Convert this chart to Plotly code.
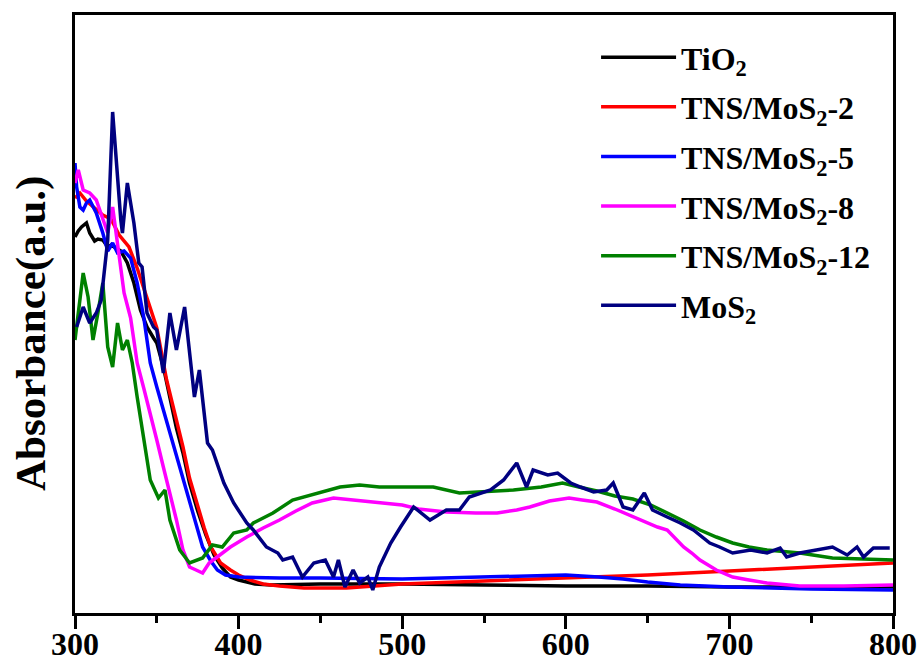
import plotly.graph_objects as go

# ---- data (wavelength nm, absorbance a.u.) ----
tio2_x = [300,302,304,307,309,312,314,317,320,322,325,328,332,336,340,344,348,350,354,358,362,366,370,375,380,385,390,395,400,410,420,450,500,550,600,650,700,750,800]
tio2_y = [376,382,386,390,380,372,374,373,366,368,365,362,350,330,303,286,275,270,246,215,185,160,130,102,78,58,45,36,33,29,28,29,29,28,27,27,26,26,26]

tns2_x = [300,303,307,312,317,322,327,333,338,342,346,350,356,361,366,370,375,379,383,389,395,400,407,415,425,440,466,500,550,600,650,700,750,800]
tns2_y = [415,420,412,405,398,394,378,366,345,325,305,285,233,200,166,135,106,85,66,50,43,38,33,29,27,25,25,29,32,35,38,42,46,50]

tns5_x = [300,301,303,305,307,309,313,317,320,323,326,330,334,338,342,346,350,354,358,362,366,370,374,378,383,387,392,400,425,450,500,550,600,620,635,650,670,700,750,800]
tns5_y = [450,426,406,403,410,413,400,380,362,370,360,362,355,330,296,250,226,203,182,160,137,113,90,66,52,43,38,36,35,35,34,36,38,36,34,31,28,26,24,23]

tns8_x = [300,302,305,309,313,317,320,323,327,330,334,338,342,346,350,354,358,362,366,370,374,378,382,386,395,405,415,425,435,445,458,470,486,500,510,527,545,558,570,578,590,602,610,619,630,639,648,656,662,667,672,677,682,692,702,712,723,743,770,800]
tns8_y = [430,443,423,420,413,393,380,406,360,320,295,250,225,200,173,146,120,93,63,46,43,40,50,55,66,76,85,93,102,110,115,113,110,108,104,101,100,100,103,106,112,115,113,111,104,98,92,86,83,75,66,60,53,43,36,33,30,27,27,28]

tns12_x = [300,302,305,308,311,314,317,320,323,326,329,332,335,338,341,346,351,355,358,364,370,375,378,384,390,397,405,409,421,433,448,462,474,486,499,519,535,548,568,585,598,608,619,630,641,652,662,672,682,692,702,712,723,743,763,780,800]
tns12_y = [273,300,340,316,273,300,330,266,246,290,263,273,250,216,183,133,115,123,93,63,50,53,55,68,66,80,83,90,100,113,120,126,128,126,126,126,120,121,123,126,130,126,122,117,114,108,100,92,83,76,70,66,63,60,55,54,53]

mos2_x = [301,305,309,313,316,320,323,326,328,329,332,336,339,341,344,348,350,354,358,362,367,373,376,381,384,391,397,405,409,417,424,427,433,439,446,453,458,461,465,470,474,479,482,486,493,499,507,517,527,535,541,554,562,570,576,580,589,595,603,609,617,625,629,635,641,648,653,662,670,678,688,694,702,713,723,731,735,743,754,763,772,778,782,788,798]
mos2_y = [286,306,290,300,313,373,501,433,393,380,430,390,350,346,300,286,283,240,300,263,306,216,243,170,163,130,110,90,83,66,60,53,56,36,50,53,36,53,26,43,30,36,23,46,70,86,106,93,103,103,116,123,133,150,126,143,138,140,130,126,121,123,130,106,103,120,103,96,90,83,70,66,60,63,60,65,56,60,63,66,58,66,56,65,65]

series = [
    ("TiO<sub>2</sub>", tio2_x, tio2_y, "#000000"),
    ("TNS/MoS<sub>2</sub>-2", tns2_x, tns2_y, "#FF0000"),
    ("TNS/MoS<sub>2</sub>-5", tns5_x, tns5_y, "#0000FF"),
    ("TNS/MoS<sub>2</sub>-8", tns8_x, tns8_y, "#FF00FF"),
    ("TNS/MoS<sub>2</sub>-12", tns12_x, tns12_y, "#008000"),
    ("MoS<sub>2</sub>", mos2_x, mos2_y, "#000080"),
]

x_ticks = [300, 400, 500, 600, 700, 800]

FONT = "Liberation Serif"

fig = go.Figure()
for i, (name, xs, ys, col) in enumerate(series):
    fig.add_trace(go.Scatter(
        x=xs, y=ys, mode="lines", name=name,
        line=dict(color=col, width=3.5),
        legendgroup=f"g{i}",
    ))

fig.update_layout(
    width=924, height=666,
    margin=dict(l=75, r=31, t=15, b=53, autoexpand=False),
    paper_bgcolor="white", plot_bgcolor="white",
    font=dict(family=FONT, size=32, color="black", weight="bold"),
    showlegend=True,
    legend=dict(
        x=0.637, y=0.975, xanchor="left", yanchor="top",
        bgcolor="rgba(0,0,0,0)", borderwidth=0,
        font=dict(family=FONT, size=32, color="black", weight="bold"),
        itemwidth=75, tracegroupgap=5,
    ),
    xaxis=dict(
        range=[300, 800], showgrid=False, zeroline=False, automargin=False,
        showline=True, linecolor="black", linewidth=3, mirror=True,
        tickmode="array", tickvals=x_ticks, ticktext=[str(v) for v in x_ticks],
        ticks="outside", ticklen=13, tickwidth=3, tickcolor="black",
        ticklabelstandoff=-12,
        tickfont=dict(family=FONT, size=32, color="black", weight="bold"),
        minor=dict(tickvals=[350, 450, 550, 650, 750], ticks="outside", ticklen=7, tickwidth=3, tickcolor="black"),
    ),
    yaxis=dict(
        range=[0, 598], showgrid=False, zeroline=False, automargin=False,
        showline=True, linecolor="black", linewidth=3, mirror=True,
        showticklabels=False, ticks="",
    ),
    annotations=[dict(
        text="Absorbance(a.u.)", x=-0.054, y=0.468, xref="paper", yref="paper",
        xanchor="center", yanchor="middle", textangle=-90, showarrow=False,
        font=dict(family=FONT, size=43, color="black", weight="bold"),
    )],
)

fig.write_html("out.html")
